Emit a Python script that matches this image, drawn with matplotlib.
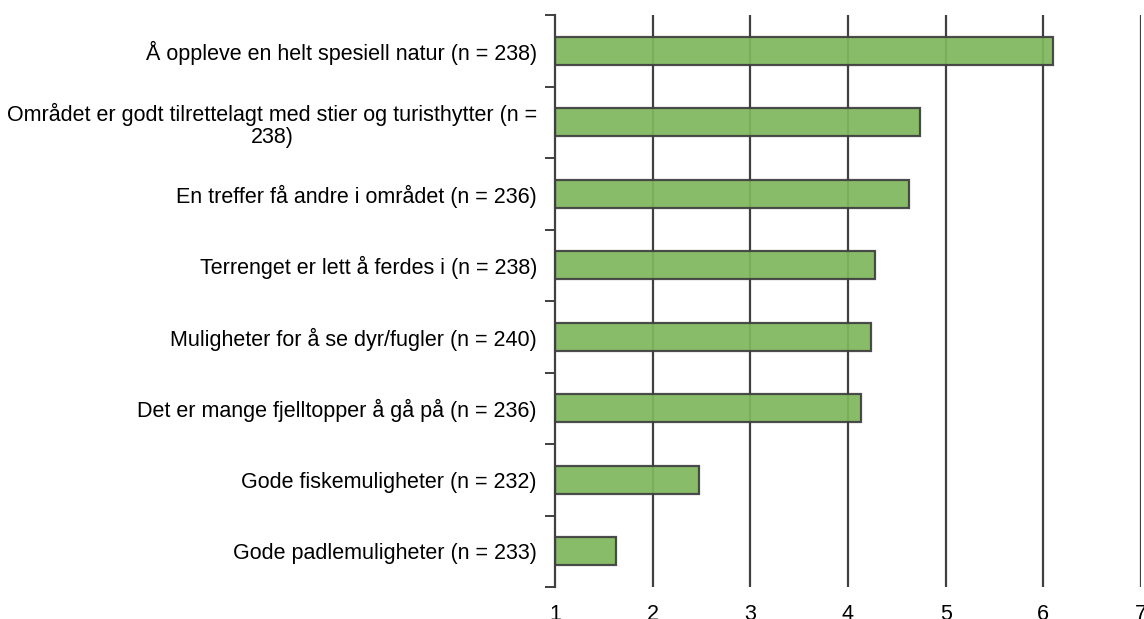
import matplotlib
matplotlib.use("Agg")
import matplotlib.pyplot as plt

categories = [
    "Å oppleve en helt spesiell natur (n = 238)",
    "Området er godt tilrettelagt med stier og turisthytter (n =\n238)",
    "En treffer få andre i området (n = 236)",
    "Terrenget er lett å ferdes i (n = 238)",
    "Muligheter for å se dyr/fugler (n = 240)",
    "Det er mange fjelltopper å gå på (n = 236)",
    "Gode fiskemuligheter (n = 232)",
    "Gode padlemuligheter (n = 233)",
]
values = [6.10, 4.74, 4.62, 4.28, 4.24, 4.13, 2.47, 1.62]
x_ticks = [1, 2, 3, 4, 5, 6, 7]

plt.rcParams['font.family'] = ['Liberation Sans', 'DejaVu Sans']

fig = plt.figure(figsize=(11.44, 6.19), dpi=100)
ax = fig.add_axes([555/1144, 1 - 587/619, (1141 - 555)/1144, (587 - 15)/619])

n = len(categories)
ypos = list(range(n))
ax.barh(ypos, [v - 1 for v in values], left=1, height=0.39,
        color='#80b75c', alpha=0.93, edgecolor='#3f3f3f', linewidth=1.6, zorder=3)

ax.set_xlim(1, 7)
ax.set_ylim(n - 0.5, -0.5)
ax.set_xticks(x_ticks)
ax.set_xticklabels([str(t) for t in x_ticks])
for x in x_ticks[1:]:
    ax.axvline(x, color='#404040', linewidth=1.6, zorder=1)

ax.set_yticks([i - 0.5 for i in range(n + 1)], minor=False)
ax.set_yticklabels([])
ax.set_yticks(ypos, minor=True)
ax.set_yticklabels(categories, minor=True)
for lab in ax.get_yticklabels(minor=True):
    lab.set_multialignment('center')
    lab.set_linespacing(1.05)

ax.tick_params(axis='y', which='major', length=7, width=1.4, color='#404040', direction='out')
ax.tick_params(axis='y', which='minor', length=0, pad=13, labelsize=15.5, labelcolor='black')
ax.tick_params(axis='x', length=0, pad=12, labelsize=15.5, labelcolor='black')

for s in ['top', 'right', 'bottom']:
    ax.spines[s].set_visible(False)
ax.spines['left'].set_color('#404040')
ax.spines['left'].set_linewidth(1.6)
ax.spines['left'].set_zorder(4)

fig.savefig('out.png', dpi=100)
